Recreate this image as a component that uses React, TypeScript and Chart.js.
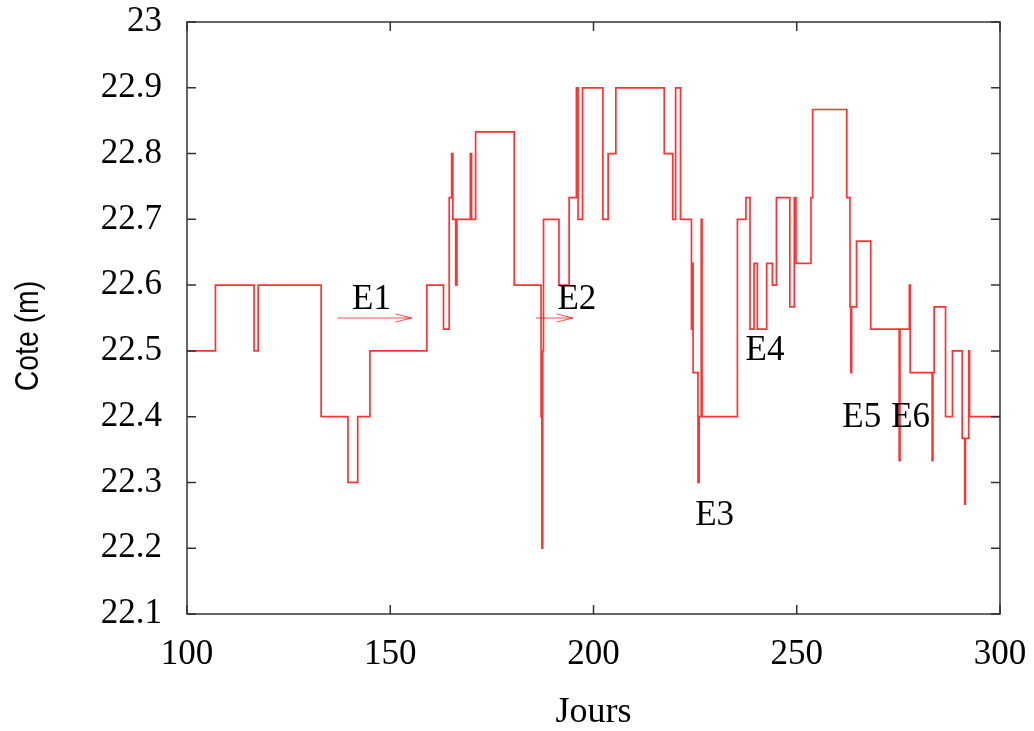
import { useEffect, useRef } from "react";
import { Chart, registerables } from "chart.js";

Chart.register(...registerables);

// Water level record: each entry starts a new level that holds until the next day listed.
const DAYS = [
  100, 107, 116.5, 117.5, 133, 139.6, 142, 145, 159, 163.1,
  164.5, 165.1, 165.4, 166.1, 166.4, 169.7, 170.0, 171, 180.5, 187.1,
  187.3, 187.5, 187.7, 191.5, 194, 195.8, 196.2, 197.3, 202.3, 203.6,
  205.5, 217.4, 219.5, 220.2, 221.4, 224.1, 224.3, 224.5, 225.7, 226.0,
  226.5, 226.7, 235.4, 237.5, 238.5, 239.5, 240.3, 242.6, 244, 245,
  248.3, 249.4, 249.8, 253.5, 253.9, 262.3, 263.1, 263.3, 263.5, 264.7,
  268.2, 275.2, 275.4, 277.7, 277.9, 283.3, 283.5, 283.8, 286.6, 288.3,
  290.7, 291.3, 291.5, 292.3, 292.5, 300,
];
const LEVELS = [
  22.5, 22.6, 22.5, 22.6, 22.4, 22.3, 22.4, 22.5, 22.6, 22.533,
  22.733, 22.8, 22.7, 22.6, 22.7, 22.8, 22.7, 22.833, 22.6, 22.4,
  22.2, 22.5, 22.7, 22.6, 22.733, 22.9, 22.7, 22.9, 22.7, 22.8,
  22.9, 22.8, 22.7, 22.9, 22.7, 22.533, 22.633, 22.467, 22.3, 22.4,
  22.7, 22.4, 22.7, 22.733, 22.533, 22.633, 22.533, 22.633, 22.6, 22.733,
  22.567, 22.733, 22.633, 22.733, 22.867, 22.733, 22.567, 22.467, 22.567, 22.667,
  22.533, 22.333, 22.533, 22.6, 22.467, 22.333, 22.467, 22.567, 22.4, 22.5,
  22.367, 22.267, 22.367, 22.5, 22.4, 22.4,
];

const X_TICKS = [100, 150, 200, 250, 300];
const Y_TICKS = [22.1, 22.2, 22.3, 22.4, 22.5, 22.6, 22.7, 22.8, 22.9, 23];

// Event labels and the two arrows marking E1 and E2
const EVENT_NAMES = ["E1", "E2", "E3", "E4", "E5", "E6"];
const EVENT_DAYS = [145.4, 195.9, 229.8, 242.2, 266.0, 278.0];
const EVENT_LEVELS = [22.577, 22.577, 22.25, 22.5, 22.398, 22.398];
const ARROW_START_DAYS = [137, 185.8];
const ARROW_END_DAYS = [155.2, 194.9];
const ARROW_LEVELS = [22.55, 22.55];

const SERIF = '"Liberation Serif", "Times New Roman", serif';
const SANS = '"Liberation Sans", Arial, sans-serif';

const decorPlugin = {
  id: "decor",
  afterDatasetsDraw(chart: any) {
    const { ctx, chartArea: a } = chart;
    const xs = chart.scales.x;
    const ys = chart.scales.y;
    ctx.save();

    // arrows
    ctx.strokeStyle = "rgba(255,0,0,0.7)";
    ctx.lineWidth = 1;
    ARROW_START_DAYS.forEach((d, i) => {
      const x1 = xs.getPixelForValue(d);
      const x2 = xs.getPixelForValue(ARROW_END_DAYS[i]);
      const yy = ys.getPixelForValue(ARROW_LEVELS[i]);
      ctx.beginPath();
      ctx.moveTo(x1, yy);
      ctx.lineTo(x2, yy);
      ctx.moveTo(x2 - 16, yy - 4);
      ctx.lineTo(x2, yy);
      ctx.lineTo(x2 - 16, yy + 4);
      ctx.stroke();
    });

    // event labels
    ctx.fillStyle = "#000";
    ctx.font = `35px ${SERIF}`;
    ctx.textAlign = "center";
    ctx.textBaseline = "middle";
    EVENT_NAMES.forEach((name, i) => {
      ctx.fillText(name, xs.getPixelForValue(EVENT_DAYS[i]), ys.getPixelForValue(EVENT_LEVELS[i]));
    });

    // frame with inward ticks on all sides
    ctx.strokeStyle = "#333";
    ctx.lineWidth = 1.5;
    ctx.strokeRect(a.left, a.top, a.right - a.left, a.bottom - a.top);
    ctx.beginPath();
    X_TICKS.forEach((v) => {
      const px = xs.getPixelForValue(v);
      ctx.moveTo(px, a.bottom);
      ctx.lineTo(px, a.bottom - 9);
      ctx.moveTo(px, a.top);
      ctx.lineTo(px, a.top + 9);
    });
    Y_TICKS.forEach((v) => {
      const py = ys.getPixelForValue(v);
      ctx.moveTo(a.left, py);
      ctx.lineTo(a.left + 9, py);
      ctx.moveTo(a.right, py);
      ctx.lineTo(a.right - 9, py);
    });
    ctx.stroke();

    // axis titles
    ctx.fillStyle = "#000";
    ctx.font = `36px ${SERIF}`;
    ctx.textAlign = "center";
    ctx.textBaseline = "middle";
    ctx.fillText("Jours", (a.left + a.right) / 2, 713);

    ctx.translate(29, 336);
    ctx.rotate(-Math.PI / 2);
    ctx.scale(0.86, 1);
    ctx.font = `33px ${SANS}`;
    ctx.fillText("Cote (m)", 0, 0);

    ctx.restore();
  },
};

export default function App() {
  const ref = useRef<HTMLCanvasElement>(null);

  useEffect(() => {
    if (!ref.current) return;
    const points = DAYS.map((d, i) => ({ x: d, y: LEVELS[i] }));
    const chart = new Chart(ref.current, {
      type: "line",
      data: {
        datasets: [
          {
            data: points,
            stepped: "before",
            borderColor: "rgba(255,0,0,0.8)",
            borderWidth: 1.7,
            pointRadius: 0,
            fill: false,
          },
        ],
      },
      options: {
        animation: false,
        responsive: false,
        devicePixelRatio: 1,
        layout: { padding: { top: 22, right: 34, left: 0, bottom: 0 } },
        plugins: { legend: { display: false }, tooltip: { enabled: false } },
        scales: {
          x: {
            type: "linear",
            min: 100,
            max: 300,
            grid: { display: false, drawTicks: false },
            border: { display: false },
            afterBuildTicks: (s: any) => {
              s.ticks = X_TICKS.map((v) => ({ value: v }));
            },
            afterFit: (s: any) => {
              s.height = 117;
              s.paddingLeft = 0;
              s.paddingRight = 0;
              s.paddingTop = 0;
              s.paddingBottom = 0;
            },
            ticks: {
              padding: 20,
              color: "#000",
              font: { family: SERIF, size: 35 },
              maxRotation: 0,
              callback: (v: any) => String(v),
            },
          },
          y: {
            type: "linear",
            min: 22.1,
            max: 23,
            grid: { display: false, drawTicks: false },
            border: { display: false },
            afterBuildTicks: (s: any) => {
              s.ticks = Y_TICKS.map((v) => ({ value: v }));
            },
            afterFit: (s: any) => {
              s.width = 187;
              s.paddingLeft = 0;
              s.paddingRight = 0;
              s.paddingTop = 0;
              s.paddingBottom = 0;
            },
            ticks: {
              padding: 25,
              color: "#000",
              font: { family: SERIF, size: 35 },
              callback: (v: any) => String(Number(Number(v).toFixed(1))),
            },
          },
        },
      },
      plugins: [decorPlugin],
    });
    return () => chart.destroy();
  }, []);

  return (
    <div style={{ position: "absolute", left: 0, top: 0, width: 1034, height: 731, background: "#fff" }}>
      <canvas ref={ref} width={1034} height={731} style={{ display: "block" }} />
    </div>
  );
}
